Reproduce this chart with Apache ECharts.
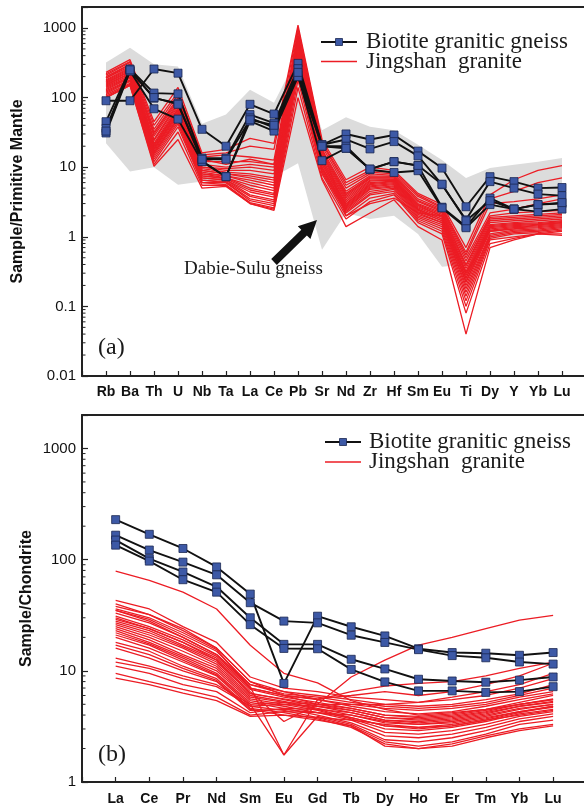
<!DOCTYPE html>
<html><head><meta charset="utf-8">
<script src="https://cdn.jsdelivr.net/npm/echarts@6/dist/echarts.min.js"></script>
<style>html,body{margin:0;padding:0;background:#fff;overflow:hidden}#c{width:584px;height:809px}</style>
</head><body><div id="c"></div>
<script>
// ---------- categories ----------
const spiderElements = ['Rb','Ba','Th','U','Nb','Ta','La','Ce','Pb','Sr','Nd','Zr','Hf','Sm','Eu','Ti','Dy','Y','Yb','Lu'];
const reeElements = ['La','Ce','Pr','Nd','Sm','Eu','Gd','Tb','Dy','Ho','Er','Tm','Yb','Lu'];

// ---------- Dabie-Sulu gneiss field (panel a) ----------
const gneissUpper = [320, 520, 300, 280, 42, 57, 130, 84, 400, 34, 52, 38, 34, 21, 12.7, 7, 9.7, 10.8, 12, 13.5];
const gneissLower = [22, 8.7, 10, 5.6, 6.2, 5.6, 4.7, 7.3, 11.4, 0.65, 2.2, 1.8, 2.0, 1.1, 0.37, 0.4, 0.9, 1.0, 1.1, 1.3];

// ---------- Biotite granitic gneiss (panel a) ----------
const biotiteSpider1 = [90, 90, 257, 224, 35, 20, 80, 58, 310, 21, 30, 25, 29, 17, 9.7, 2.7, 7.3, 6.2, 5.0, 5.1];
const biotiteSpider2 = [45, 257, 116, 113, 13.5, 13.5, 57, 43, 260, 21, 25, 18.3, 23.3, 14.5, 5.6, 1.75, 6.2, 5.0, 4.1, 3.9];
const biotiteSpider3 = [36, 245, 98, 83, 12.2, 7.3, 51, 37, 210, 12.4, 18.7, 9.35, 12, 10.5, 2.66, 1.4, 3.6, 2.5, 2.9, 3.0];
const biotiteSpider4 = [31, 240, 69, 49, 12, 7.3, 46, 33, 200, 20, 20, 9.2, 8.4, 8.9, 2.6, 1.35, 2.9, 2.5, 2.3, 2.5];
const biotiteSpider5 = [33, 250, 100, 80, 13, 13, 48, 40, 230, 20, 18.7, 9.4, 12, 10.6, 5.7, 1.7, 3.3, 2.5, 2.9, 3.1];

// ---------- Jingshan granite (panel a) ----------
const jingshanSpider = [
  [230, 350, 45, 140, 16, 18, 26, 22, 1100, 25, 6.6, 10, 9, 4.2, 2.9, 0.7, 4.0, 6.6, 9.0, 10.5],
  [220, 330, 40, 120, 15, 16, 20, 18, 1000, 23, 6.0, 9.0, 8.5, 4.0, 2.7, 0.6, 3.5, 4.5, 6.0, 7.0],
  [210, 320, 35, 110, 14, 15, 14, 12.6, 900, 22, 5.5, 8.5, 8, 3.8, 2.6, 0.55, 3.0, 3.2, 3.5, 4.0],
  [200, 300, 30, 95, 12, 12, 12, 11, 800, 20, 5.0, 8.0, 7.6, 3.5, 2.5, 0.5, 2.2, 2.5, 3.0, 3.5],
  [190, 300, 32, 100, 13, 11, 13, 11, 750, 19, 2.0, 3.0, 3.6, 2.2, 2.0, 0.3, 1.2, 1.3, 1.5, 1.6],
  [190, 280, 28, 90, 11, 10, 11, 10, 700, 18, 4.5, 7.5, 7.4, 3.3, 2.4, 0.45, 2.0, 2.2, 2.3, 2.4],
  [180, 270, 25, 85, 10, 9.5, 10, 9, 650, 17, 4.2, 7.2, 7.2, 3.2, 2.3, 0.4, 1.9, 2.0, 2.1, 2.2],
  [175, 260, 24, 80, 10, 9, 9, 8, 600, 16, 4.0, 7.0, 7.0, 3.0, 2.2, 0.38, 1.8, 1.9, 2.0, 2.1],
  [170, 250, 22, 75, 9.5, 8.5, 8, 7, 560, 15, 3.8, 6.8, 6.8, 2.9, 2.1, 0.35, 1.7, 1.8, 1.9, 2.0],
  [165, 240, 21, 70, 9, 8, 7.5, 6.5, 520, 14, 3.6, 6.5, 6.6, 2.8, 2.0, 0.32, 1.6, 1.7, 1.8, 1.9],
  [160, 235, 20, 68, 9, 8, 7, 6, 480, 13, 3.4, 6.3, 6.5, 2.7, 2.0, 0.3, 1.5, 1.6, 1.7, 1.8],
  [155, 225, 20, 65, 8.5, 7.5, 6.5, 5.5, 450, 13, 3.2, 6.0, 6.3, 2.6, 1.9, 0.28, 1.45, 1.55, 1.6, 1.7],
  [150, 220, 19, 62, 8, 7.5, 6, 5, 420, 12, 3.0, 5.8, 6.2, 2.5, 1.8, 0.26, 1.4, 1.5, 1.55, 1.65],
  [145, 210, 18, 60, 8, 7, 5.5, 4.6, 400, 12, 2.9, 5.6, 6.0, 2.45, 1.8, 0.25, 1.35, 1.45, 1.5, 1.6],
  [140, 200, 18, 58, 7.5, 7, 5, 4.2, 380, 11, 2.8, 5.4, 5.8, 2.4, 1.7, 0.23, 1.3, 1.4, 1.45, 1.55],
  [135, 195, 17, 55, 7.5, 6.8, 4.7, 4.0, 350, 11, 2.7, 5.2, 5.6, 2.3, 1.7, 0.22, 1.25, 1.35, 1.4, 1.5],
  [130, 190, 16, 52, 7, 6.5, 4.4, 3.7, 320, 10, 2.6, 5.0, 5.4, 2.2, 1.6, 0.2, 1.2, 1.3, 1.35, 1.45],
  [125, 180, 16, 50, 7, 6.5, 4.0, 3.4, 300, 10, 2.5, 4.8, 5.2, 2.1, 1.6, 0.18, 1.1, 1.25, 1.3, 1.4],
  [120, 175, 15, 48, 6.5, 6.2, 3.8, 3.2, 280, 9.5, 2.4, 4.5, 5.0, 2.0, 1.5, 0.16, 1.05, 1.2, 1.25, 1.35],
  [115, 170, 14, 45, 6.5, 6, 3.5, 3.0, 250, 9, 2.3, 4.2, 4.8, 1.9, 1.4, 0.14, 1.0, 1.15, 1.2, 1.3],
  [110, 160, 13, 42, 6, 6, 3.3, 2.8, 220, 8.5, 2.2, 4.0, 4.5, 1.8, 1.3, 0.12, 0.95, 1.1, 1.15, 1.25],
  [105, 155, 12, 38, 6, 5.6, 3.1, 2.6, 180, 8, 2.0, 3.6, 4.2, 1.7, 1.2, 0.1, 0.9, 1.0, 1.1, 1.2],
  [100, 150, 11, 32, 5.5, 5.5, 3.0, 2.5, 140, 7, 1.8, 3.2, 4.0, 1.6, 1.1, 0.08, 0.8, 0.95, 1.1, 1.1],
  [100, 150, 10.3, 25, 5, 5.3, 3.0, 2.4, 100, 6.6, 1.4, 2.2, 3.4, 1.4, 0.9, 0.04, 0.7, 0.9, 1.1, 1.05]
];

// ---------- Biotite granitic gneiss (panel b) ----------
const biotiteRee1 = [229, 169, 126, 86, 49, 7.7, 31, 24.9, 20.6, 15.8, 14.6, 14.4, 13.8, 14.6];
const biotiteRee2 = [166, 122, 95, 73, 41, 28, 27, 20.9, 18, 15.5, 13.7, 13.1, 12, 11.5];
const biotiteRee3 = [150, 102, 77.5, 57, 30, 17.3, 17.3, 12.7, 10.4, 8.4, 8.1, 7.9, 8.25, 8.8];
const biotiteRee4 = [135, 97, 66, 51, 26, 15.9, 15.8, 10.3, 7.95, 6.6, 6.6, 6.4, 6.5, 7.2];

// ---------- Jingshan granite (panel b) ----------
const jingshanRee = [
  [79, 65, 51, 36, 17, 9.5, 7.8, 5.4, 4.5, 4.0, 4.2, 4.5, 5.0, 5.5],
  [40, 32, 24, 16, 8, 6.0, 5.0, 8.8, 12.5, 17, 20, 24, 28.6, 31.6],
  [35, 28, 20, 14, 7.5, 6.5, 5.5, 6.5, 7.3, 7.7, 8.0, 9.0, 10.5, 12],
  [43, 36, 25, 18, 8.8, 7.0, 6.5, 5.8, 5.5, 5.2, 5.5, 6.0, 7.0, 8.5],
  [38, 32, 23, 16, 8.0, 6.5, 6.0, 5.5, 5.0, 4.8, 5.0, 5.5, 6.2, 7.5],
  [35, 29, 21, 15, 7.5, 6.2, 5.8, 5.2, 4.8, 4.6, 4.8, 5.2, 6.0, 7.0],
  [33, 27, 20, 14, 7.2, 1.75, 5.5, 5.0, 4.6, 4.4, 4.6, 5.0, 5.8, 6.5],
  [31, 25, 19, 13.5, 7.0, 6.0, 5.5, 4.8, 4.3, 4.1, 4.3, 4.8, 5.5, 6.2],
  [30, 24, 18, 13, 6.8, 5.8, 5.2, 4.6, 4.0, 3.9, 4.1, 4.5, 5.2, 6.0],
  [28, 23, 17, 12.5, 6.5, 3.5, 5.0, 4.4, 3.8, 3.7, 3.9, 4.3, 5.0, 5.6],
  [27, 22, 16.5, 12, 6.3, 5.5, 4.8, 4.2, 3.6, 3.5, 3.7, 4.1, 4.8, 5.3],
  [26, 21, 16, 11.5, 6.0, 5.3, 4.6, 4.0, 3.4, 3.3, 3.5, 3.9, 4.5, 5.0],
  [25, 20, 15, 11, 5.8, 5.2, 4.5, 3.8, 3.2, 3.1, 3.3, 3.7, 4.3, 4.8],
  [24, 19, 14, 10.5, 5.6, 5.0, 4.4, 3.7, 3.0, 2.9, 3.1, 3.5, 4.1, 4.5],
  [23, 18, 13.5, 10, 5.4, 4.8, 4.2, 3.6, 2.8, 2.7, 2.9, 3.3, 3.9, 4.3],
  [22, 17.5, 13, 9.5, 5.2, 4.6, 4.0, 3.4, 2.6, 2.5, 2.7, 3.1, 3.7, 4.1],
  [21, 17, 12.5, 9.2, 5.0, 1.75, 3.9, 3.3, 2.4, 2.3, 2.5, 2.9, 3.5, 3.9],
  [20, 16, 12, 9.0, 4.8, 4.4, 3.8, 3.2, 2.3, 2.1, 2.3, 2.7, 3.3, 3.6],
  [18, 15, 11, 8.5, 4.6, 4.2, 3.7, 3.1, 2.2, 2.0, 2.2, 2.6, 3.0, 3.3],
  [17, 14, 10.5, 8.2, 4.5, 4.0, 3.6, 3.2, 2.1, 2.0, 2.1, 2.5, 2.9, 3.2],
  [16, 13, 10, 8.0, 4.4, 4.5, 4.2, 3.8, 3.2, 3.0, 3.2, 3.6, 4.2, 4.8],
  [13, 11, 9, 7.5, 5.0, 5.2, 5.0, 4.6, 4.0, 3.8, 4.0, 4.4, 5.0, 5.5],
  [12, 10.5, 8.5, 7.2, 4.8, 5.0, 4.8, 4.4, 3.8, 3.6, 3.8, 4.2, 4.8, 5.2],
  [11, 9.5, 7.5, 6.5, 4.2, 4.6, 4.5, 4.2, 3.6, 3.4, 3.6, 4.0, 4.6, 5.0],
  [9.5, 8.0, 6.8, 5.8, 4.0, 4.3, 4.2, 4.0, 3.5, 3.3, 3.4, 3.8, 4.3, 4.7],
  [8.6, 7.5, 6.3, 5.4, 3.9, 4.0, 3.8, 3.6, 3.3, 3.1, 3.2, 3.6, 4.0, 4.4],
  [36, 30, 22, 15.5, 7.0, 6.0, 5.6, 6.0, 6.5, 6.0, 6.5, 7.5, 9.0, 11.7],
  [29, 24, 18, 12.5, 6.2, 5.6, 5.0, 5.0, 5.0, 5.2, 5.8, 6.5, 7.5, 9.5]
];

// ---------- axis ticks ----------
const decadesA = [0.01, 0.1, 1, 10, 100, 1000];
const decadesB = [1, 10, 100, 1000];
const minorMultipliers = [2, 3, 4, 5, 6, 7, 8, 9];

const RED = '#ec1c24', BLACK = '#111111', BLUE = '#3d59a6', GRAY = '#dcdcdc';
const BIOTITE = 'Biotite granitic gneiss', JINGSHAN = 'Jingshan  granite';

const toPairs = arr => arr.map((v, i) => [i + 1, v]);
const logLabel = v => {
  const e = Math.log10(v);
  if (Math.abs(e - Math.round(e)) > 1e-6) return '';
  return String(parseFloat(v.toPrecision(6)));
};

function xAxisDef(grid, max, names, margin) {
  return {
    gridIndex: grid, type: 'value', min: 0, max: max, interval: 1,
    axisLine: { onZero: false, lineStyle: { color: '#222', width: 2 } },
    axisTick: { inside: true, length: 5, lineStyle: { color: '#222', width: 1.2 } },
    axisLabel: { margin: margin, color: '#111', fontFamily: 'Liberation Sans', fontWeight: 'bold', fontSize: 14,
      showMaxLabel: false, formatter: v => names[v - 1] || '' },
    splitLine: { show: false }
  };
}
function topAxisDef(grid, max) {
  return {
    gridIndex: grid, type: 'value', position: 'top', min: 0, max: max, interval: 1,
    axisLine: { onZero: false, lineStyle: { color: '#222', width: 2 } },
    axisTick: { show: false }, axisLabel: { show: false }, splitLine: { show: false }
  };
}
function yAxisDef(grid, min, max, split, name, gap) {
  return {
    gridIndex: grid, type: 'log', logBase: 10, min: min, max: max, splitNumber: split,
    name: name, nameLocation: 'middle', nameGap: gap, nameMoveOverlap: false,
    nameTextStyle: { fontFamily: 'Liberation Sans', fontWeight: 'bold', fontSize: 16, color: '#111' },
    axisLine: { onZero: false, lineStyle: { color: '#222', width: 2 } },
    axisTick: { inside: true, length: 6, lineStyle: { color: '#222', width: 1.2 } },
    axisLabel: { margin: 6, color: '#111', fontFamily: 'Liberation Sans', fontSize: 15, formatter: logLabel },
    splitLine: { show: false }
  };
}
function minorTickSeries(axisIdx, decades, maxV) {
  const data = [];
  decades.forEach(d => minorMultipliers.forEach(m => { if (d * m <= maxV) data.push([0, d * m]); }));
  return {
    type: 'custom', xAxisIndex: axisIdx, yAxisIndex: axisIdx, silent: true, z: 10, data: data,
    renderItem: (params, api) => {
      const p = api.coord([0, api.value(1)]);
      return { type: 'line', shape: { x1: p[0], y1: p[1], x2: p[0] + 3.5, y2: p[1] }, style: { stroke: '#222', lineWidth: 1 } };
    }
  };
}
function redSeries(axisIdx, arr) {
  return { type: 'line', name: JINGSHAN, xAxisIndex: axisIdx, yAxisIndex: axisIdx, data: toPairs(arr),
    symbol: 'none', silent: true, z: 3, lineStyle: { color: RED, width: 1.3 } };
}
function blackSeries(axisIdx, arr) {
  return { type: 'line', name: BIOTITE, xAxisIndex: axisIdx, yAxisIndex: axisIdx, data: toPairs(arr),
    symbol: 'rect', symbolSize: 8, silent: true, z: 5,
    lineStyle: { color: BLACK, width: 1.9 },
    itemStyle: { color: BLUE, borderColor: '#1b2750', borderWidth: 0.8 } };
}

const series = [];
series.push({
  type: 'custom', xAxisIndex: 0, yAxisIndex: 0, silent: true, z: 1, data: [[1, 1]],
  renderItem: (params, api) => {
    const pts = [];
    gneissUpper.forEach((v, i) => pts.push(api.coord([i + 1, v])));
    for (let i = gneissLower.length - 1; i >= 0; i--) pts.push(api.coord([i + 1, gneissLower[i]]));
    return { type: 'polygon', shape: { points: pts }, style: { fill: GRAY } };
  }
});
jingshanSpider.forEach(a => series.push(redSeries(0, a)));
[biotiteSpider1, biotiteSpider2, biotiteSpider3, biotiteSpider4, biotiteSpider5].forEach(a => series.push(blackSeries(0, a)));
jingshanRee.forEach(a => series.push(redSeries(1, a)));
[biotiteRee1, biotiteRee2, biotiteRee3, biotiteRee4].forEach(a => series.push(blackSeries(1, a)));
series.push(minorTickSeries(0, decadesA, 2000));
series.push(minorTickSeries(1, decadesB, 2000));

const serif = '"Liberation Serif", "Times New Roman", serif';
function legendGraphics(lx, tx, y1, y2) {
  return [
    { type: 'line', z: 100, shape: { x1: lx, y1: y1, x2: lx + 36, y2: y1 }, style: { stroke: BLACK, lineWidth: 1.9 } },
    { type: 'rect', z: 101, shape: { x: lx + 14.5, y: y1 - 3.5, width: 7, height: 7 }, style: { fill: BLUE, stroke: '#1b2750', lineWidth: 0.8 } },
    { type: 'text', z: 100, style: { text: BIOTITE, x: tx, y: y1, verticalAlign: 'middle', font: '23px ' + serif, fill: '#1a1a1a' } },
    { type: 'line', z: 100, shape: { x1: lx, y1: y2, x2: lx + 36, y2: y2 }, style: { stroke: RED, lineWidth: 1.6 } },
    { type: 'text', z: 100, style: { text: JINGSHAN, x: tx, y: y2, verticalAlign: 'middle', font: '23px ' + serif, fill: '#1a1a1a' } }
  ];
}

// axis spans extend past the right edge of the window (the reference crops them there)
const option = {
  animation: false,
  backgroundColor: '#fff',
  grid: [
    { left: 82, top: 7, width: 528, height: 369, outerBoundsMode: 'none', containLabel: false },
    { left: 82, top: 415, width: 530, height: 367, outerBoundsMode: 'none', containLabel: false }
  ],
  xAxis: [xAxisDef(0, 22, spiderElements, 9), xAxisDef(1, 15.75, reeElements, 10), topAxisDef(0, 22), topAxisDef(1, 15.75)],
  yAxis: [yAxisDef(0, 0.01, 2000, 5, 'Sample/Primitive Mantle', 56), yAxisDef(1, 1, 2000, 3, 'Sample/Chondrite', 47)],
  series: series,
  graphic: [
    ...legendGraphics(321, 366, 42, 61.5),
    ...legendGraphics(325, 369, 442, 462),
    { type: 'polygon', z: 100, shape: { points: [[317, 220], [310.4, 239.0], [306.9, 235.5], [276.8, 264.9], [271.2, 259.1], [301.3, 229.7], [297.8, 226.2]] }, style: { fill: '#111' } },
    { type: 'text', z: 100, style: { text: 'Dabie-Sulu gneiss', x: 184, y: 269, verticalAlign: 'middle', font: '19px ' + serif, fill: '#1a1a1a' } },
    { type: 'text', z: 100, style: { text: '(a)', x: 98, y: 348, verticalAlign: 'middle', font: '24px ' + serif, fill: '#1a1a1a' } },
    { type: 'text', z: 100, style: { text: '(b)', x: 98, y: 755, verticalAlign: 'middle', font: '24px ' + serif, fill: '#1a1a1a' } }
  ]
};
const chart = echarts.init(document.getElementById('c'), null, { renderer: 'canvas' });
chart.setOption(option);
</script></body></html>
